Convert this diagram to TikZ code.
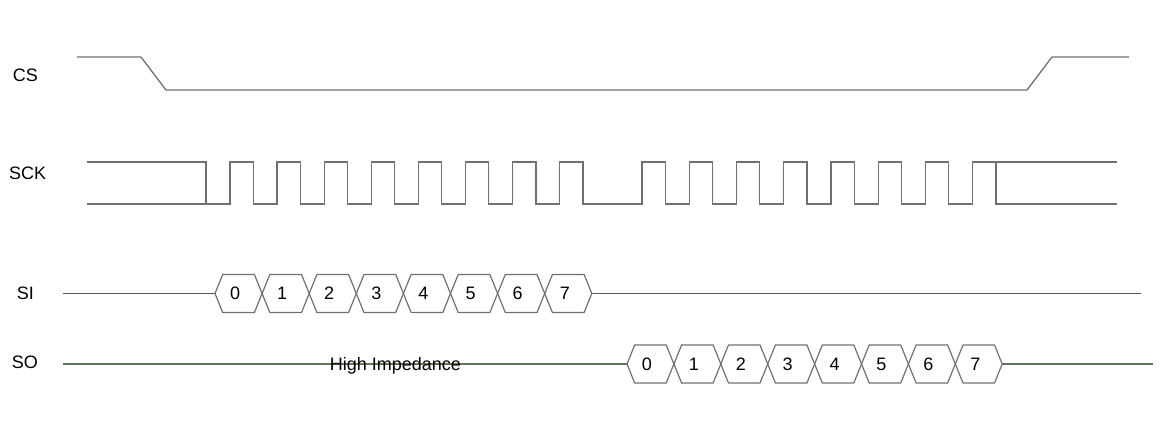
\documentclass[tikz,border=0pt]{standalone}
\usepackage{fontspec}
\setmainfont{Liberation Sans}
\definecolor{wavegray}{RGB}{112,112,112}
\definecolor{linegray}{RGB}{88,88,88}
\definecolor{linegreen}{RGB}{98,118,92}
\tikzset {
    wave/.style = {draw = wavegray, line width = 1.3pt},
    idle line/.style = {draw = #1, line width = 1.1pt},
    hex cell/.style = {draw = wavegray, line width = 1.2pt, line join = miter},
    bit/.style = {inner sep = 0pt, font = \fontsize{18}{20}\selectfont},
    signal/.style = {anchor = west, inner sep = 0pt, font = \fontsize{18}{20}\selectfont}
}
% one byte on a bus: prefix, left tip, cell width, level
\newcommand{\databus}[4]{%
    \foreach \n in {0,...,7} {
        \pgfmathsetmacro{\xa}{#2+#3*\n}
        \pgfmathsetmacro{\xb}{#2+#3*(\n+1)}
        \draw [hex cell] (\xa,#4) -- ({\xa+7.7},{#4-19}) -- ({\xb-7.7},{#4-19})
            -- (\xb,#4) -- ({\xb-7.7},{#4+19}) -- ({\xa+7.7},{#4+19}) -- cycle;
        \node [bit] (#1\n) at ({(\xa+\xb)/2-3.5},#4) {\n};
    }
}

\begin{document}
\begin{tikzpicture}[x = 1pt, y = -1pt]
    \useasboundingbox (0,0) rectangle (1166,422);
    % signal names
    \node [signal] (cs) at (12.7,75.5) {CS};
    \node [signal] (sck) at (9,173) {SCK};
    \node [signal] (si) at (16.7,293) {SI};
    \node [signal] (so) at (11.7,362) {SO};
    % chip select
    \draw [wave] (77,57) -- (141,57) -- (166,90) -- (1027,90) -- (1052,57) -- (1129,57);
    % clock
    \draw [wave] (87,204) -- (206,204);
    \draw [wave] (87,162) -- (206,162) -- (206,204)
        \foreach \k in {0,...,7} {
            -- ({230+47.1*\k},204) -- ++(0,-42) -- ++(23.3,0) -- ++(0,42)
        }
        -- (642,204)
        \foreach \k in {0,...,7} {
            -- ({642+47.25*\k},204) -- ++(0,-42) -- ++(23.3,0) -- ++(0,42)
        }
        -- (1117,204);
    \draw [wave] (996,204) -- (996,162) -- (1117,162);
    % serial in
    \coordinate (si start) at (63,293.5);
    \coordinate (si end) at (1141,293.5);
    \draw [idle line = linegray] (si start) -- (215,293.5);
    \draw [idle line = linegray] (591.8,293.5) -- (si end);
    \databus{si}{215}{47.1}{293.5}
    % serial out
    \coordinate (so start) at (63,364);
    \coordinate (so end) at (1153,364);
    \draw [idle line = linegreen] (so start) -- (627,364);
    \draw [idle line = linegreen] (1002,364) -- (so end);
    \node [bit, anchor = base] (hiz) at (395.5,370.5) {High Impedance};
    \databus{so}{627}{46.9}{364}
\end{tikzpicture}
\end{document}
